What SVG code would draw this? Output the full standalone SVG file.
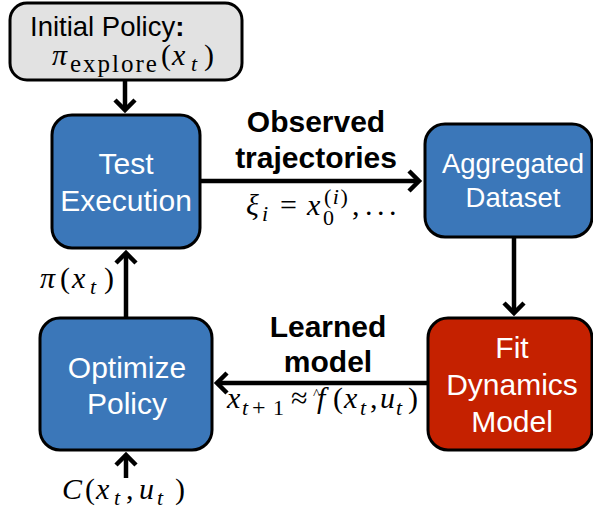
<svg xmlns="http://www.w3.org/2000/svg" width="593" height="519" viewBox="0 0 593 519">
<style>
.box{stroke:#000;stroke-width:3}
.blue{fill:#3b77b9}
.red{fill:#c52100}
.gray{fill:#e2e2e2}
.lbl{font-family:"Liberation Sans",Arial,sans-serif;fill:#fff;text-anchor:middle}
.bold{font-family:"Liberation Sans",Arial,sans-serif;font-weight:bold;fill:#000;text-anchor:middle;font-size:30px}
.m{font-family:"Liberation Serif","Times New Roman",serif;fill:#000;font-size:30px}
.i{font-style:italic}
.s{font-size:22px}
.c{stroke:#000;stroke-width:4.5;fill:none}
</style>
<defs>
<marker id="ah" viewBox="0 0 14 22" refX="11" refY="11" markerWidth="14" markerHeight="22" orient="auto" markerUnits="userSpaceOnUse" overflow="visible">
<path d="M1,1 L11,11 L1,21" fill="none" stroke="#000" stroke-width="4.5"/>
</marker>
</defs>
<g id="connectors">
<line class="c" x1="125" y1="80" x2="125" y2="110" marker-end="url(#ah)"/>
<line class="c" x1="200" y1="181" x2="419" y2="181" marker-end="url(#ah)"/>
<line class="c" x1="514" y1="237" x2="514" y2="313" marker-end="url(#ah)"/>
<line class="c" x1="428" y1="383" x2="217" y2="383" marker-end="url(#ah)"/>
<line class="c" x1="126" y1="318" x2="126" y2="253" marker-end="url(#ah)"/>
<line class="c" x1="126" y1="478" x2="126" y2="455" marker-end="url(#ah)"/>
</g>
<g id="initial">
<rect class="box gray" x="10" y="3" width="232" height="77" rx="17"/>
<text x="30" y="36" style="font-family:'Liberation Sans',Arial,sans-serif;font-size:27.5px">Initial Policy<tspan font-weight="bold">:</tspan></text>
<text class="m" y="65"><tspan class="i" x="52">π</tspan><tspan x="70" y="72" font-size="25" letter-spacing="2">explore</tspan><tspan x="161" y="65">(</tspan><tspan class="i" x="172">x</tspan><tspan class="i s" x="191" y="71">t</tspan><tspan x="204" y="65">)</tspan></text>
</g>
<g id="test">
<rect class="box blue" x="52" y="115" width="148" height="133" rx="20"/>
<text class="lbl" x="126" y="174" font-size="30">Test</text>
<text class="lbl" x="126" y="211" font-size="30">Execution</text>
</g>
<g id="aggregated">
<rect class="box blue" x="425" y="124" width="167" height="113" rx="20"/>
<text class="lbl" x="513" y="173" font-size="27.5">Aggregated</text>
<text class="lbl" x="513" y="207" font-size="27.5">Dataset</text>
</g>
<g id="fit">
<rect class="box red" x="428" y="318" width="164" height="132" rx="20"/>
<text class="lbl" x="512" y="358" font-size="30">Fit</text>
<text class="lbl" x="512" y="395" font-size="30">Dynamics</text>
<text class="lbl" x="512" y="432" font-size="30">Model</text>
</g>
<g id="optimize">
<rect class="box blue" x="40" y="318" width="172" height="132" rx="20"/>
<text class="lbl" x="127" y="378" font-size="30">Optimize</text>
<text class="lbl" x="127" y="414" font-size="30">Policy</text>
</g>
<g id="labels">
<text class="bold" x="316" y="132">Observed</text>
<text class="bold" x="316" y="168">trajectories</text>
<text class="m" y="215"><tspan class="i" x="246">ξ</tspan><tspan class="i s" x="262" y="221">i</tspan><tspan x="280" y="215">=</tspan><tspan class="i" x="307">x</tspan><tspan class="s" x="323" y="225">0</tspan><tspan class="s" x="324" y="204" letter-spacing="1.5">(<tspan class="i">i</tspan>)</tspan><tspan x="352" y="215">,</tspan><tspan x="365">.</tspan><tspan x="377">.</tspan><tspan x="389">.</tspan></text>
<text class="bold" x="328" y="337">Learned</text>
<text class="bold" x="328" y="372">model</text>
<text class="m" y="408"><tspan class="i" x="227">x</tspan><tspan class="i s" x="242" y="415">t</tspan><tspan x="252" y="415" font-size="24">+</tspan><tspan class="s" x="273" y="415">1</tspan><tspan x="291" y="408">≈</tspan><tspan class="i" x="317">f</tspan><tspan x="313" y="399" font-size="15">^</tspan><tspan x="333" y="408">(</tspan><tspan class="i" x="344">x</tspan><tspan class="i s" x="360" y="415">t</tspan><tspan x="370" y="408">,</tspan><tspan class="i" x="380">u</tspan><tspan class="i s" x="396" y="415">t</tspan><tspan x="408" y="408">)</tspan></text>
<text class="m" y="288"><tspan class="i" x="40">π</tspan><tspan x="60">(</tspan><tspan class="i" x="72">x</tspan><tspan class="i s" x="90" y="294">t</tspan><tspan x="104" y="288">)</tspan></text>
<text class="m" y="499"><tspan class="i" x="62">C</tspan><tspan x="85">(</tspan><tspan class="i" x="96">x</tspan><tspan class="i s" x="114" y="505">t</tspan><tspan x="126" y="499">,</tspan><tspan class="i" x="139">u</tspan><tspan class="i s" x="157" y="505">t</tspan><tspan x="175" y="499">)</tspan></text>
</g>
</svg>
